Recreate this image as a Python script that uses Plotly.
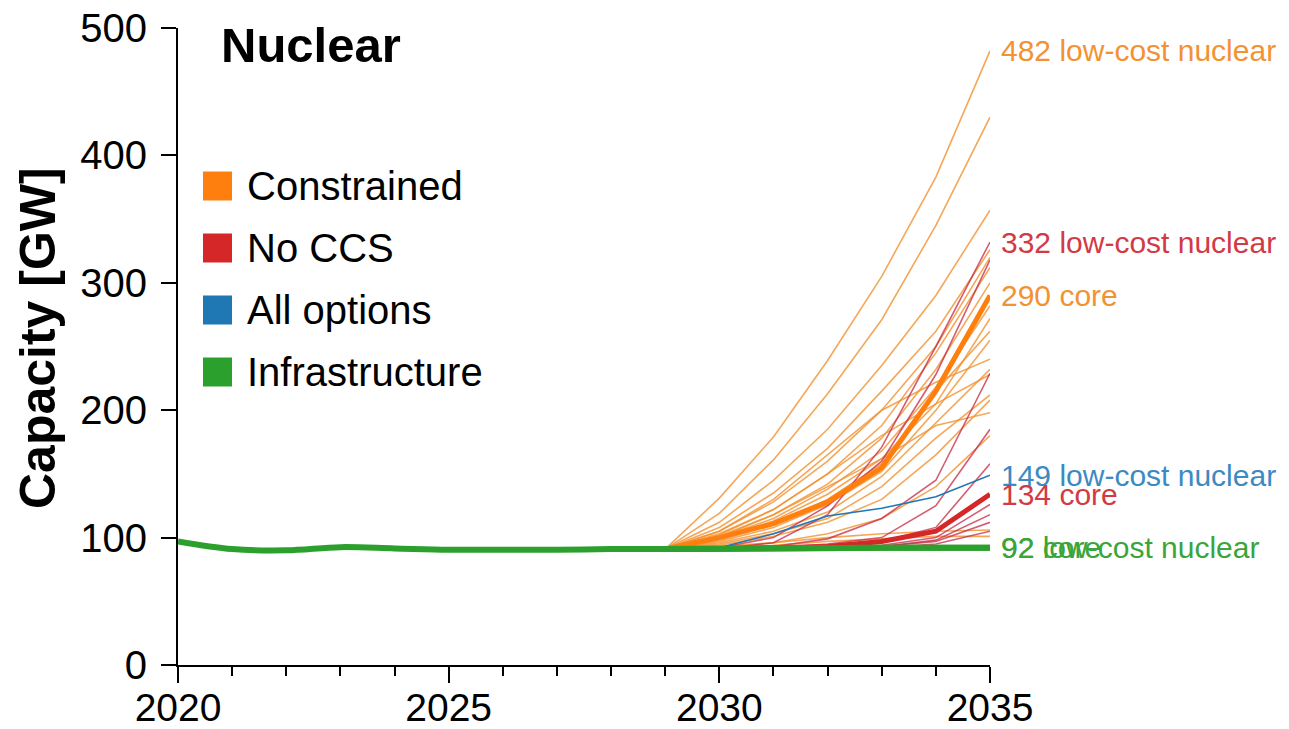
import plotly.graph_objects as go

# ---------------------------------------------------------------------------
# Data: installed nuclear capacity [GW]
# ---------------------------------------------------------------------------
hist_years = list(range(2020, 2030))
hist_capacity = [97, 91, 90, 92.5, 91.5, 90.5, 90.5, 90.5, 91, 91]

proj_years = list(range(2029, 2036))

# Constrained scenario family (thin lines = sensitivity runs)
constrained_runs = [
    [91, 131, 179, 239, 305, 383, 482],
    [91, 119, 161, 213, 271, 345, 430],
    [91, 112, 145, 185, 235, 290, 357],
    [91, 108, 135, 170, 215, 262, 326],
    [91, 105, 128, 160, 200, 250, 320],
    [91, 103, 122, 150, 188, 245, 312],
    [91, 101, 118, 142, 178, 232, 300],
    [91, 100, 115, 138, 168, 218, 282],
    [91, 99, 113, 134, 162, 205, 272],
    [91, 98, 110, 130, 158, 215, 262],
    [91, 97, 108, 126, 152, 200, 255],
    [91, 105, 130, 165, 200, 222, 240],
    [91, 96, 105, 120, 148, 190, 232],
    [91, 102, 122, 150, 180, 205, 228],
    [91, 95, 103, 115, 140, 178, 212],
    [91, 94, 101, 112, 130, 165, 208],
    [91, 100, 118, 140, 162, 188, 198],
    [91, 92, 96, 103, 115, 140, 180],
    [91, 93, 96, 100, 103, 105, 106],
    [91, 92, 94, 97, 99, 101, 101],
]
constrained_core = [91, 100, 111, 128, 155, 215, 290]
constrained_lowcost = constrained_runs[0]

# No CCS scenario family
no_ccs_runs = [
    [91, 91, 96, 118, 171, 250, 332],
    [91, 92, 100, 125, 160, 228, 318],
    [91, 91, 93, 99, 115, 145, 229],
    [91, 91, 92, 95, 100, 125, 185],
    [91, 91, 92, 94, 97, 108, 158],
    [91, 91, 91, 92, 94, 100, 126],
    [91, 91, 91, 92, 93, 98, 118],
    [91, 91, 91, 92, 93, 97, 112],
    [91, 91, 91, 91, 92, 95, 105],
]
no_ccs_core = [91, 91, 92, 93, 97, 105, 134]
no_ccs_lowcost = no_ccs_runs[0]

# All options scenario
all_options_core = [91, 91, 92, 92, 92, 93, 93]
all_options_lowcost = [91, 92, 103, 117, 123, 132, 149]

# Infrastructure scenario
infrastructure_core = [91, 91.5, 92, 92, 92, 92, 92]
infrastructure_lowcost = [91, 91.5, 92, 92, 92, 92, 92]

# ---------------------------------------------------------------------------
# Styling
# ---------------------------------------------------------------------------
C_ORANGE = "#ff7f0e"
C_ORANGE_THIN = "rgba(243,145,48,0.8)"
C_RED = "#d62728"
C_RED_THIN = "rgba(196,40,70,0.75)"
C_BLUE = "#1f77b4"
C_GREEN = "#2ca02c"

LBL_ORANGE = "#f39233"
LBL_RED = "#d23a45"
LBL_BLUE = "#3d8ac2"
LBL_GREEN = "#3aa53a"

FONT = "Liberation Sans, Arial, Helvetica, sans-serif"

fig = go.Figure()


def add_line(y, color, width, x=proj_years, shape="linear"):
    fig.add_trace(go.Scatter(x=x, y=y, mode="lines",
                             line=dict(color=color, width=width, shape=shape),
                             showlegend=False, hoverinfo="skip"))


for run in constrained_runs:
    add_line(run, C_ORANGE_THIN, 1.6)
for run in no_ccs_runs:
    add_line(run, C_RED_THIN, 1.6)
add_line(all_options_lowcost, C_BLUE, 1.6)
add_line(all_options_core, C_BLUE, 1.6)
add_line(constrained_core, C_ORANGE, 5)
add_line(no_ccs_core, C_RED, 5)

# shared history and infrastructure runs on top
add_line(hist_capacity + [infrastructure_core[0]], C_GREEN, 6,
         x=hist_years + [proj_years[0]], shape="spline")
add_line(infrastructure_lowcost, C_GREEN, 6)
add_line(infrastructure_core, C_GREEN, 6)

# ---------------------------------------------------------------------------
# End-of-line labels
# ---------------------------------------------------------------------------
end_labels = [
    (constrained_lowcost[-1], "low-cost nuclear", LBL_ORANGE),
    (no_ccs_lowcost[-1], "low-cost nuclear", LBL_RED),
    (constrained_core[-1], "core", LBL_ORANGE),
    (all_options_lowcost[-1], "low-cost nuclear", LBL_BLUE),
    (no_ccs_core[-1], "core", LBL_RED),
    (infrastructure_lowcost[-1], "low-cost nuclear", LBL_GREEN),
    (infrastructure_core[-1], "core", LBL_GREEN),
]
annotations = []
for val, name, col in end_labels:
    annotations.append(dict(
        x=2035, y=val, xref="x", yref="y", xanchor="left", yanchor="middle",
        xshift=9, text=f"{val:g} {name}", showarrow=False,
        font=dict(family=FONT, size=30, color=col)))

# Panel geometry in pixels
L, R, T, B = 178, 299, 28, 64
PW, PH = 1289 - L - R, 729 - T - B


def px(xp):
    return (xp - L) / PW


def py(yp):
    return (729 - B - yp) / PH


# Panel title
annotations.append(dict(
    x=px(219), y=py(45), xref="paper", yref="paper", xanchor="left",
    yanchor="middle", text="<b>Nuclear</b>", showarrow=False,
    font=dict(family=FONT, size=49, color="black")))

# Y-axis title
annotations.append(dict(
    x=px(38), y=py(338), xref="paper", yref="paper", xanchor="center",
    yanchor="middle", text="<b>Capacity [GW]</b>", textangle=-90,
    showarrow=False, font=dict(family=FONT, size=50, color="black")))

# Legend swatches
legend_items = [("Constrained", C_ORANGE), ("No CCS", C_RED),
                ("All options", C_BLUE), ("Infrastructure", C_GREEN)]
shapes = []
for i, (name, col) in enumerate(legend_items):
    yc = 186 + i * 62
    shapes.append(dict(type="rect", xref="paper", yref="paper",
                       x0=px(203), x1=px(232), y0=py(yc + 14.5), y1=py(yc - 14.5),
                       fillcolor=col, line=dict(width=0)))
    annotations.append(dict(
        x=px(245), y=py(yc), xref="paper", yref="paper", xanchor="left",
        yanchor="middle", text=name, showarrow=False,
        font=dict(family=FONT, size=40, color="black")))

fig.update_layout(
    width=1289, height=729,
    margin=dict(l=L, r=R, t=T, b=B, autoexpand=False),
    paper_bgcolor="white", plot_bgcolor="white",
    showlegend=False,
    annotations=annotations, shapes=shapes,
    font=dict(family=FONT, color="black"),
    xaxis=dict(
        range=[2020, 2035], tickvals=[2020, 2025, 2030, 2035],
        ticks="outside", ticklen=16, tickwidth=2, tickcolor="black",
        showline=True, linecolor="black", linewidth=2,
        showgrid=False, zeroline=False, automargin=False,
        tickfont=dict(family=FONT, size=39, color="black"),
        ticklabelstandoff=-9,
        minor=dict(dtick=1, tick0=2020, ticks="outside", ticklen=9,
                   tickwidth=2, tickcolor="black", showgrid=False),
    ),
    yaxis=dict(
        range=[0, 500], tickvals=[0, 100, 200, 300, 400, 500],
        ticks="outside", ticklen=15, tickwidth=2, tickcolor="black",
        showline=True, linecolor="black", linewidth=2,
        showgrid=False, zeroline=False, automargin=False,
        tickfont=dict(family=FONT, size=40, color="black"),
        ticklabelstandoff=6,
    ),
)

fig.write_html("out.html")
